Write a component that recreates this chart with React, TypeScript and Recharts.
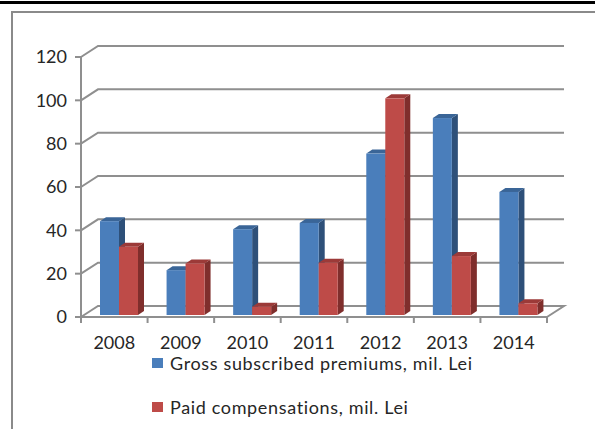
import { BarChart, Bar, XAxis, YAxis, CartesianGrid, Legend } from 'recharts';

const years = ['2008', '2009', '2010', '2011', '2012', '2013', '2014'];
const grossPremiums = [43.3, 20.7, 39.6, 42.5, 74.5, 90.9, 56.8];
const paidCompensations = [31.5, 23.8, 3.8, 24.1, 100, 27.2, 5.4];
const yTicks = [0, 20, 40, 60, 80, 100, 120];
const seriesNames = ['Gross subscribed premiums, mil. Lei', 'Paid compensations, mil. Lei'];

const data = years.map((year, i) => ({
  year,
  gross: grossPremiums[i],
  paid: paidCompensations[i],
}));

// layout of the pseudo-3d plot (front plane)
const W = 595;
const H = 429;
const PLOT_LEFT = 81;
const PLOT_RIGHT = 547;
const PLOT_TOP = 57;
const PLOT_BOTTOM = 317;
const DEPTH_X = 17;
const DEPTH_Y = -11;
const BAND = (PLOT_RIGHT - PLOT_LEFT) / years.length;
const GRID = '#8f8f8f';
const FONT = 'Lato, "Open Sans", sans-serif';

const GridLine3D = (props: any) => {
  const { x1, y1, x2, index } = props;
  const by = y1 + DEPTH_Y;
  let d = `M${x1},${y1} L${x1 + DEPTH_X},${by} L${x2 + DEPTH_X},${by}`;
  if (Math.abs(y1 - PLOT_BOTTOM) < 1) d += ` L${x2},${y1}`;
  return <path key={`grid-${index}`} d={d} fill="none" stroke={GRID} strokeWidth={2} />;
};

const makeBar3D = (face: string, side: string, top: string) => (props: any) => {
  const { x, y, width, height } = props;
  if (!height || height <= 0) return <g />;
  const fx = x + 5;
  const fy = y - 2;
  const dx = 6;
  const dy = -4;
  return (
    <g>
      <polygon
        points={`${fx + width},${fy} ${fx + width + dx},${fy + dy} ${fx + width + dx},${fy + height + dy} ${fx + width},${fy + height}`}
        fill={side}
      />
      <polygon
        points={`${fx},${fy} ${fx + dx},${fy + dy} ${fx + width + dx},${fy + dy} ${fx + width},${fy}`}
        fill={top}
      />
      <rect x={fx} y={fy} width={width} height={height} fill={face} />
    </g>
  );
};

const XTick = (props: any) => {
  const { x, y, payload, index } = props;
  const left = x - BAND / 2;
  const last = index === years.length - 1;
  return (
    <g>
      <line x1={left} y1={y} x2={left} y2={y + 6} stroke={GRID} strokeWidth={2} />
      {last && <line x1={x + BAND / 2} y1={y} x2={x + BAND / 2} y2={y + 6} stroke={GRID} strokeWidth={2} />}
      <text x={x} y={y + 32} textAnchor="middle" fontSize={18} fill="#262626" fontFamily={FONT}>
        {payload.value}
      </text>
    </g>
  );
};

const renderLegend = (props: any) => {
  const { payload } = props;
  return (
    <div style={{ fontFamily: FONT, fontSize: 18, letterSpacing: 0.65, color: '#262626' }}>
      {payload.map((entry: any, i: number) => (
        <div key={`leg-${i}`} style={{ display: 'flex', alignItems: 'center', height: 44 }}>
          <span style={{ width: 11, height: 10, background: entry.color, marginRight: 7, display: 'inline-block' }} />
          <span>{entry.value}</span>
        </div>
      ))}
    </div>
  );
};

export default function App() {
  return (
    <div style={{ position: 'fixed', left: 0, top: 0, width: W, height: H, background: '#fff', overflow: 'hidden' }}>
      {/* page rule and chart frame */}
      <div style={{ position: 'absolute', left: 0, top: 1, width: W, height: 3, background: '#000' }} />
      <div style={{ position: 'absolute', left: 11, top: 11, width: W - 11, height: 2, background: '#8a8a8a' }} />
      <div style={{ position: 'absolute', left: 11, top: 11, width: 2, height: H - 11, background: '#8a8a8a' }} />
      <BarChart
        width={W}
        height={H}
        data={data}
        barSize={19}
        barGap={0}
        margin={{ top: PLOT_TOP, right: W - PLOT_RIGHT, left: PLOT_LEFT - 40, bottom: H - PLOT_BOTTOM - 40 }}
        style={{ position: 'absolute', left: 0, top: 0 }}
      >
        <CartesianGrid vertical={false} horizontal={GridLine3D} />
        <XAxis
          dataKey="year"
          height={40}
          tickSize={0}
          tickMargin={0}
          axisLine={{ stroke: GRID, strokeWidth: 2 }}
          tickLine={false}
          tick={XTick}
          interval={0}
        />
        <YAxis
          width={40}
          domain={[0, 120]}
          ticks={yTicks}
          interval={0}
          tickSize={6}
          tickMargin={8}
          axisLine={{ stroke: GRID, strokeWidth: 2 }}
          tickLine={{ stroke: GRID, strokeWidth: 2 }}
          tick={{ fontSize: 18, fill: '#262626', fontFamily: FONT }}
        />
        <Legend
          layout="vertical"
          align="center"
          verticalAlign="middle"
          content={renderLegend}
          wrapperStyle={{ left: 152, top: 341, width: 420 }}
        />
        <Bar
          dataKey="gross"
          name={seriesNames[0]}
          fill="#4A7EBB"
          isAnimationActive={false}
          shape={makeBar3D('#4A7EBB', '#2E5079', '#3A6597')}
        />
        <Bar
          dataKey="paid"
          name={seriesNames[1]}
          fill="#BE4B48"
          isAnimationActive={false}
          shape={makeBar3D('#BE4B48', '#7F2E2C', '#9C3A38')}
        />
      </BarChart>
    </div>
  );
}
